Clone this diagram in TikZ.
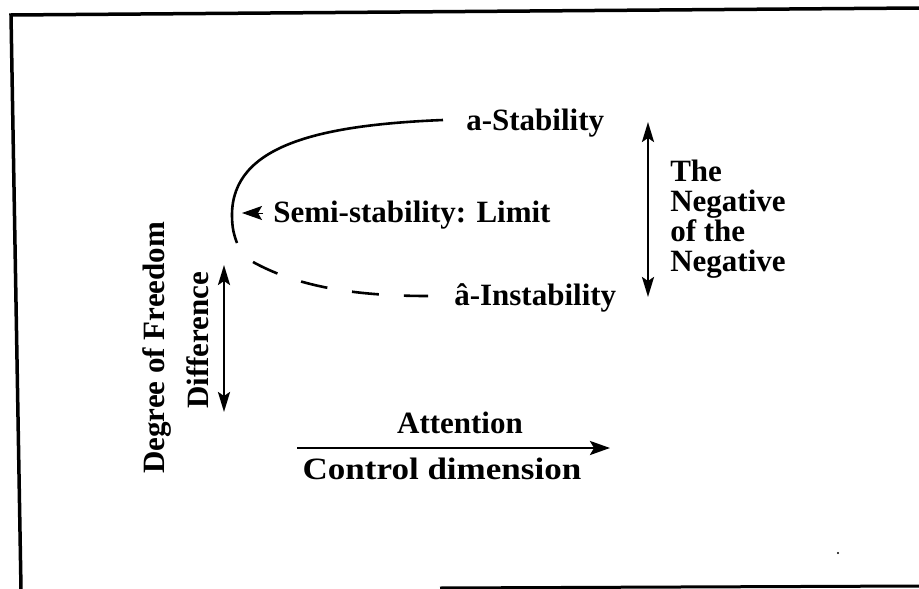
\documentclass[tikz,border=0pt]{standalone}
\usepackage{fontspec}
\usepackage{graphicx}
\setmainfont{Liberation Serif}
\usetikzlibrary{arrows.meta}
\newcommand\mytightlines{\lineskiplimit=-30pt\relax}
\begin{document}
\begin{tikzpicture}[x=1pt,y=-1pt,line width=2.6pt,
  lbl/.style={font=\fontsize{31}{33}\selectfont\bfseries, inner sep=0pt},
  rlbl/.style={font=\fontsize{31}{30}\selectfont\bfseries\mytightlines, inner sep=0pt, align=left},
  headtip/.style={-{Stealth[length=20pt,width=14pt,inset=4pt]}},
  dblarrow/.style={{Stealth[length=20pt,width=12pt,inset=4pt]}-{Stealth[length=20pt,width=12pt,inset=4pt]}},
  frame/.style={line width=3.5pt}]
\useasboundingbox (0,0) rectangle (919,589);
% frame
\coordinate (fbl) at (21,589);
\coordinate (ftl) at (11,15);
\coordinate (ftr) at (919,8);
\coordinate (fb1) at (440,588);
\coordinate (fb2) at (919,586);
\draw[frame] (fbl) -- (ftl) -- (ftr);
\draw[frame,line width=3pt] (fb1) -- (fb2);
% labels
\node[lbl,anchor=base west] (stab) at (465,130) {a-Stability};
\node[lbl,anchor=base west] (semi) at (272,222) {Semi-stability: Limit};
\node[lbl,anchor=base west] (instab) at (453,305) {\^a-Instability};
\node[lbl,anchor=base] (att) at (460,433) {Attention};
\node[lbl,anchor=base] (ctrl) at (442,479) {\scalebox{1.13}[1]{Control dimension}};
\node[rlbl,anchor=north west] (neg) at (669,159) {The\\Negative\\of the\\Negative};
\node[lbl,rotate=90,anchor=base west] (dof) at (164,475) {Degree of Freedom};
\node[lbl,rotate=90,anchor=base west] (diff) at (208,410) {Difference};
% curve
\coordinate (cs) at (443,120);
\coordinate (vtx) at (232,215);
\coordinate (ce) at (237,243);
\coordinate (ds) at (253,262);
\coordinate (de) at (428,296);
\draw (cs) .. controls (320,125) and (232,145) .. (vtx) .. controls (232,228) and (234,235) .. (ce);
\draw[dash pattern=on 27pt off 25pt] (ds) .. controls (300,288) and (360,296) .. (de);
% semi-stability arrowhead
\coordinate (sa1) at (263,213);
\coordinate (sa2) at (242,213);
\draw[headtip,line width=1pt] (sa1) -- (sa2);
% double arrows
\coordinate (r1) at (648,122);
\coordinate (r2) at (648,297);
\draw[dblarrow] (r1) -- (r2);
\coordinate (l1) at (224,265);
\coordinate (l2) at (224,412);
\draw[dblarrow] (l1) -- (l2);
% attention arrow
\coordinate (a1) at (297,448);
\coordinate (a2) at (610,448);
\draw[-{Stealth[length=20pt,width=14pt,inset=4pt]}] (a1) -- (a2);
% speck
\fill (838,553) circle (1.2);
\end{tikzpicture}
\end{document}
